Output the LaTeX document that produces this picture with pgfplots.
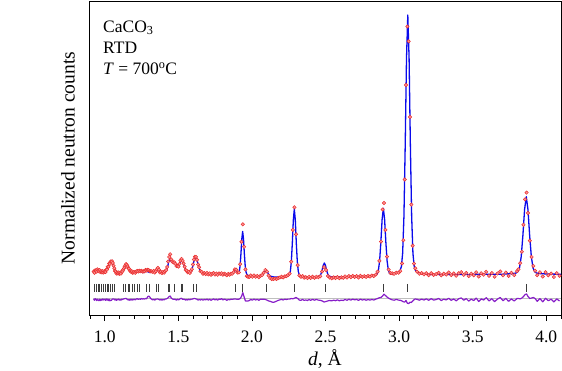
\documentclass[border=0pt]{standalone}
\usepackage{fontspec}
\setmainfont{Liberation Serif}
\usepackage{pgfplots}
\pgfplotsset{compat=1.18}
\usepackage{pgfplotstable}
\definecolor{obsred}{RGB}{235,45,45}
\definecolor{obsfill}{RGB}{250,150,150}
\definecolor{calcblue}{RGB}{10,10,235}
\definecolor{diffpurple}{RGB}{135,30,200}
\definecolor{basegray}{RGB}{190,190,190}
\definecolor{tickgray}{RGB}{60,60,60}

\pgfplotstableread{
d obs diff
0.925 43.5 16.1
0.930 42.2 14.7
0.935 44.7 16.3
0.940 44.4 15.7
0.945 43.4 14.5
0.950 45.6 15.9
0.955 44.5 14.9
0.960 43.7 14.3
0.965 44.9 15.8
0.970 42.9 14.5
0.975 43.8 15.5
0.980 42.6 14.8
0.985 43.9 16.0
0.990 42.4 15.0
0.995 43.7 15.9
1.000 43.2 15.5
1.005 42.9 14.7
1.010 45.2 16.1
1.015 45.3 14.9
1.020 48.2 15.9
1.025 48.2 14.5
1.030 51.4 15.7
1.035 51.1 14.1
1.040 53.5 14.9
1.045 53.3 14.5
1.050 53.7 15.7
1.055 52.0 16.1
1.060 49.3 16.1
1.065 46.7 15.7
1.070 44.0 14.9
1.075 43.6 15.8
1.080 41.5 14.7
1.085 42.3 15.6
1.090 41.5 15.1
1.095 42.6 16.0
1.100 41.2 14.9
1.105 42.1 15.5
1.110 41.4 14.8
1.115 43.4 15.9
1.120 43.5 15.5
1.125 45.2 15.9
1.130 46.5 16.1
1.135 48.2 16.3
1.140 49.7 16.5
1.145 50.9 16.6
1.150 50.0 15.9
1.155 48.7 15.5
1.160 46.8 14.9
1.165 46.3 15.6
1.170 44.3 14.8
1.175 44.6 15.7
1.180 43.0 15.0
1.185 43.7 15.8
1.190 42.2 14.9
1.195 42.8 15.5
1.200 43.0 15.8
1.207 42.1 15.1
1.214 43.5 16.0
1.221 44.0 16.3
1.228 43.5 15.6
1.235 44.3 16.1
1.242 43.7 15.7
1.249 44.3 16.5
1.256 43.4 15.9
1.263 43.7 16.3
1.270 43.7 15.9
1.277 45.0 16.5
1.284 44.5 16.2
1.291 45.2 18.0
1.298 44.9 19.0
1.305 44.1 18.2
1.312 43.7 16.5
1.319 43.7 15.8
1.326 43.1 15.0
1.333 44.0 15.7
1.340 42.5 14.9
1.347 43.8 15.8
1.354 45.6 15.9
1.361 47.1 16.0
1.368 45.3 15.5
1.375 42.6 15.0
1.382 43.2 15.7
1.389 41.9 14.8
1.396 43.0 15.6
1.403 42.3 15.1
1.410 43.7 15.9
1.417 44.9 16.0
1.424 48.0 16.5
1.431 53.5 17.3
1.438 58.0 18.5
1.445 60.7 19.0
1.452 55.5 17.0
1.459 53.4 16.1
1.466 52.5 15.7
1.473 52.6 15.9
1.480 51.2 15.6
1.487 48.9 14.9
1.494 49.0 15.8
1.501 48.4 15.1
1.508 51.1 15.7
1.515 54.5 16.5
1.522 56.1 16.7
1.529 54.1 15.7
1.536 51.5 15.9
1.543 48.3 15.6
1.550 44.9 14.9
1.557 44.4 15.6
1.564 42.6 15.0
1.571 43.2 15.8
1.578 42.0 15.1
1.585 44.1 15.9
1.592 45.8 15.8
1.599 50.4 16.1
1.606 55.4 16.5
1.613 58.2 16.4
1.620 58.1 16.1
1.627 55.2 15.7
1.634 50.5 14.9
1.641 47.8 15.5
1.650 43.8 15.0
1.659 43.1 15.7
1.668 41.2 14.8
1.677 41.9 15.6
1.686 41.0 15.1
1.695 42.0 15.9
1.704 40.6 14.9
1.713 41.6 15.8
1.722 40.2 14.7
1.731 41.3 15.5
1.740 41.9 16.1
1.749 40.5 15.0
1.758 41.5 15.9
1.767 40.2 14.8
1.776 41.6 16.0
1.785 41.1 15.6
1.794 41.8 16.3
1.803 40.3 15.1
1.812 41.4 15.9
1.821 40.7 15.5
1.830 39.8 14.7
1.839 41.0 15.7
1.848 40.3 15.1
1.857 41.2 15.8
1.866 41.3 15.6
1.875 42.8 15.9
1.884 45.6 16.1
1.893 45.3 15.9
1.902 42.5 15.7
1.911 42.6 15.7
1.920 50.8 16.5
1.929 73.2 18.5
1.938 90.7 22.3
1.947 68.2 18.0
1.956 45.6 14.0
1.965 38.9 13.9
1.974 38.1 14.0
1.983 38.2 14.5
1.992 39.5 15.7
2.003 38.2 14.8
2.014 39.5 15.9
2.025 38.2 15.0
2.036 39.0 15.7
2.047 37.8 14.7
2.058 39.2 15.8
2.069 39.9 15.8
2.080 42.2 15.7
2.091 45.0 15.6
2.102 43.5 14.9
2.113 39.4 14.1
2.124 36.9 13.7
2.135 35.9 13.0
2.146 36.0 12.6
2.157 36.4 13.2
2.168 36.0 13.9
2.179 37.0 14.7
2.190 37.5 15.1
2.201 38.3 15.7
2.212 37.5 15.0
2.223 38.6 15.8
2.234 38.9 15.5
2.245 39.9 15.9
2.256 41.4 15.9
2.267 53.3 16.5
2.278 85.1 16.1
2.289 107.7 16.9
2.300 80.7 17.5
2.311 49.8 16.5
2.322 39.6 14.9
2.333 38.2 14.7
2.344 38.9 15.6
2.355 37.3 14.6
2.366 37.8 15.1
2.377 36.9 14.5
2.388 38.2 15.5
2.399 37.0 14.7
2.412 38.3 15.7
2.425 37.2 14.8
2.438 38.3 15.6
2.451 37.8 14.9
2.464 38.7 14.7
2.477 43.5 14.1
2.490 47.9 13.0
2.503 45.0 13.5
2.516 39.0 14.1
2.529 37.4 14.5
2.542 36.7 14.1
2.555 37.6 14.8
2.568 37.0 14.3
2.581 37.9 15.1
2.594 36.8 14.2
2.607 37.7 14.9
2.620 37.2 14.5
2.633 38.6 15.6
2.646 37.5 14.7
2.659 38.9 15.8
2.672 37.8 14.9
2.685 39.1 15.9
2.698 38.0 15.1
2.711 38.9 15.7
2.724 37.5 14.6
2.737 39.2 15.9
2.750 38.1 15.0
2.763 38.9 15.5
2.776 38.1 14.8
2.789 39.1 15.5
2.802 38.5 14.9
2.815 39.5 15.6
2.828 38.9 15.0
2.841 40.4 15.8
2.854 43.4 16.5
2.866 54.1 17.3
2.877 73.4 17.5
2.888 105.5 19.0
2.897 112.0 20.8
2.907 85.1 19.5
2.918 58.4 18.0
2.929 45.4 16.8
2.941 42.0 15.9
2.953 41.7 15.2
2.966 41.2 14.8
2.981 42.3 15.6
2.996 42.3 14.9
3.008 43.9 14.7
3.020 51.6 14.0
3.029 74.8 13.2
3.038 135.5 13.0
3.047 230.0 14.5
3.056 288.5 11.8
3.065 273.7 11.5
3.074 198.0 12.8
3.083 110.4 12.5
3.092 69.3 14.0
3.101 51.4 15.2
3.110 46.7 16.0
3.122 43.3 15.7
3.137 41.3 14.8
3.153 42.0 15.9
3.169 40.6 15.0
3.185 41.8 16.1
3.201 39.8 14.7
3.218 41.8 16.3
3.235 40.1 14.9
3.252 40.9 15.5
3.269 42.2 16.5
3.286 39.7 14.5
3.303 41.3 15.8
3.320 40.5 15.1
3.337 42.5 16.7
3.354 39.9 14.7
3.371 41.6 16.0
3.388 39.3 14.2
3.405 41.8 16.2
3.422 42.9 17.1
3.439 40.1 14.8
3.456 42.1 16.4
3.473 38.9 13.9
3.490 41.4 15.9
3.507 39.7 14.5
3.524 42.7 16.9
3.541 38.5 13.5
3.558 41.7 16.1
3.575 40.3 15.0
3.592 43.2 17.3
3.611 39.2 14.1
3.630 41.9 16.3
3.649 38.3 13.4
3.668 41.5 15.9
3.687 43.5 17.5
3.706 39.6 14.3
3.725 42.5 16.6
3.744 39.0 13.7
3.763 42.2 16.1
3.782 39.9 14.0
3.801 43.9 16.5
3.811 45.7 16.5
3.823 51.8 16.1
3.834 63.3 17.0
3.845 90.2 18.5
3.856 115.7 20.5
3.866 122.4 21.0
3.876 102.0 18.5
3.888 74.3 16.5
3.900 58.1 17.0
3.912 49.1 17.5
3.924 44.3 16.5
3.938 39.8 13.7
3.957 42.7 16.4
3.976 38.5 13.2
3.995 42.8 16.7
4.014 39.7 14.3
4.033 41.5 15.8
4.052 38.0 13.1
4.071 41.8 16.1
4.090 39.2 14.0
}\obsdata

\begin{document}
\begin{tikzpicture}
\useasboundingbox (-89pt,-55pt) rectangle (473pt,315pt);
\begin{axis}[
  at={(0pt,0pt)}, anchor=south west,
  scale only axis, width=472pt, height=314pt,
  xmin=0.893, xmax=4.1, ymin=0, ymax=314,
  axis line style={line width=0.8pt, black},
  ytick=\empty,
  xtick={1,1.5,2,2.5,3,3.5,4},
  minor xtick={0.9,1.1,1.2,1.3,1.4,1.6,1.7,1.8,1.9,2.1,2.2,2.3,2.4,2.6,2.7,2.8,2.9,3.1,3.2,3.3,3.4,3.6,3.7,3.8,3.9,4.1},
  xtick pos=lower,
  tick align=outside,
  major tick length=6pt, minor tick length=3.5pt,
  every tick/.style={line width=0.8pt, black},
  /pgf/number format/assume math mode=true,
  xticklabel style={font=\fontsize{17.5}{20}\selectfont, /pgf/number format/fixed, /pgf/number format/fixed zerofill, /pgf/number format/precision=1, yshift=-6pt},
  xlabel={\textit{d}, Å},
  xlabel style={font=\fontsize{19.5}{22}\selectfont, at={(axis description cs:0.5,0)}, anchor=base, yshift=-50pt},
  ylabel={Normalized neutron counts},
  ylabel style={font=\fontsize{19.5}{22}\selectfont, at={(axis description cs:-0.0297,0.5)}, anchor=south, inner sep=0pt},
  clip=true,
]
\addplot[basegray, line width=1.1pt] coordinates {(0.92,16.3) (4.1,16.3)};
\addplot[diffpurple, line width=1.2pt, line join=round] table[x=d, y=diff]{\obsdata};
\addplot[only marks, mark=|, mark size=3.9pt, mark options={line width=0.7pt, draw=tickgray}] coordinates {
(0.932,27.2) (0.944,27.2) (0.955,27.2) (0.966,27.2) (0.978,27.2) (0.990,27.2) (1.003,27.2) (1.015,27.2) (1.027,27.2) (1.039,27.2) (1.052,27.2) (1.068,27.2)
(1.125,27.2) (1.141,27.2) (1.159,27.2) (1.170,27.2) (1.186,27.2) (1.204,27.2) (1.220,27.2) (1.238,27.2) (1.283,27.2) (1.306,27.2) (1.351,27.2) (1.365,27.2)
(1.431,27.2) (1.442,27.2) (1.471,27.2) (1.522,27.2) (1.528,27.2) (1.605,27.2) (1.624,27.2) (1.889,27.2) (1.937,27.2) (2.095,27.2) (2.288,27.2) (2.497,27.2) (2.896,27.2) (3.059,27.2) (3.865,27.2)};
\addplot[calcblue, line width=1.3pt, line join=round] coordinates {
(0.925,42.5) (0.935,43.5) (0.944,44.3) (0.952,45.0) (0.959,45.0) (0.968,44.0) (0.978,43.3) (0.990,42.8) (1.000,43.0) (1.010,44.2) (1.018,46.7) (1.026,49.5) (1.034,52.3) (1.040,54.0) (1.044,54.5) (1.049,53.5) (1.054,51.5) (1.061,47.8) (1.068,45.0) (1.076,42.8) (1.084,41.9) (1.096,41.7) (1.109,41.9) (1.120,43.3) (1.131,45.7) (1.139,48.0) (1.146,49.5) (1.152,49.0) (1.159,47.5) (1.168,45.2) (1.181,43.3) (1.194,42.5) (1.204,42.3) (1.220,42.8) (1.238,43.4) (1.250,42.8) (1.261,42.4) (1.273,43.2) (1.283,44.0) (1.294,43.2) (1.306,42.4) (1.318,43.0) (1.329,43.7) (1.340,43.0) (1.350,43.5) (1.359,46.5) (1.366,45.5) (1.374,43.0) (1.390,42.5) (1.408,42.7) (1.420,44.5) (1.428,48.5) (1.434,53.5) (1.440,55.5) (1.446,55.0) (1.452,53.5) (1.458,52.5) (1.466,52.0) (1.474,51.8) (1.482,50.5) (1.490,48.8) (1.498,48.3) (1.505,49.5) (1.512,52.0) (1.519,54.0) (1.525,54.5) (1.532,52.5) (1.540,49.0) (1.551,45.0) (1.564,43.0) (1.578,42.3) (1.590,44.0) (1.600,50.0) (1.607,54.5) (1.613,56.8) (1.619,57.3) (1.625,55.8) (1.631,52.5) (1.637,49.5) (1.646,45.0) (1.657,42.8) (1.669,41.7) (1.690,41.2) (1.72,41.0) (1.76,40.8) (1.80,40.6) (1.83,40.5)
(1.850,40.5) (1.865,40.8) (1.876,42.2) (1.884,44.6) (1.890,45.0) (1.897,43.5) (1.905,41.6) (1.914,43.2) (1.9198,49.4) (1.9255,61.5) (1.9313,76.2) (1.937,83.5) (1.9428,76.0) (1.9485,61.3) (1.9543,49.2) (1.960,42.9) (1.9658,40.5) (1.9715,39.7) (1.983,39.2) (2.000,38.8) (2.030,38.5) (2.055,38.6)
(2.065,38.9) (2.0725,39.9) (2.080,41.65) (2.0875,43.8) (2.095,44.9) (2.1025,43.8) (2.110,41.6) (2.1175,39.8) (2.125,38.8) (2.150,38.0) (2.190,37.8) (2.220,38.0)
(2.234,38.6) (2.2475,39.2) (2.2543,40.2) (2.261,43.6) (2.2678,53.3) (2.2745,72.0) (2.2813,94.8) (2.288,106.0) (2.2948,94.8) (2.3015,72.0) (2.3083,53.3) (2.315,43.6) (2.3218,40.2) (2.3285,39.2) (2.342,38.6) (2.380,37.9) (2.420,37.8)
(2.447,38.2) (2.462,39.2) (2.4695,41.2) (2.477,45.0) (2.4845,49.7) (2.492,52.0) (2.4995,49.7) (2.507,45.0) (2.5145,41.2) (2.522,39.2) (2.537,38.3) (2.600,38.2) (2.700,38.3) (2.791,38.9)
(2.825,39.3) (2.842,39.9) (2.8505,40.9) (2.859,44.3) (2.8675,54.0) (2.876,72.7) (2.8845,95.5) (2.893,106.7) (2.9015,95.5) (2.910,72.7) (2.9185,54.0) (2.927,44.6) (2.9355,41.5) (2.944,40.9) (2.954,41.0) (2.970,41.3)
(2.989,42.3) (3.0065,44.4) (3.0153,48.3) (3.024,61.6) (3.0328,98.5) (3.0415,170.0) (3.0503,257.1) (3.059,300.0) (3.0678,257.1) (3.0765,170.0) (3.0853,98.5) (3.094,61.6) (3.1028,48.3) (3.1115,44.4) (3.129,42.3) (3.164,41.0) (3.199,40.6) (3.300,40.6) (3.500,40.6) (3.700,40.8)
(3.772,41.4) (3.795,42.0) (3.8065,43.2) (3.818,47.1) (3.8295,58.2) (3.841,79.5) (3.8525,105.5) (3.864,118.3) (3.8755,105.5) (3.887,79.5) (3.8985,58.2) (3.910,47.1) (3.9215,43.2) (3.933,42.0) (3.956,41.4) (4.002,41.0) (4.100,40.8)};
\addplot[only marks, mark=*, mark size=1.7pt, mark options={draw=obsred, fill=obsfill, line width=0.5pt}] table[x=d, y=obs]{\obsdata};
\node[anchor=north west, align=left, inner sep=0pt, font=\fontsize{17.5}{21}\selectfont, xshift=14pt, yshift=-19.5pt] at (axis description cs:0,1) {CaCO\textsubscript{3}\\RTD\\\textit{T} = 700\textsuperscript{o}C};
\end{axis}
\end{tikzpicture}
\end{document}
